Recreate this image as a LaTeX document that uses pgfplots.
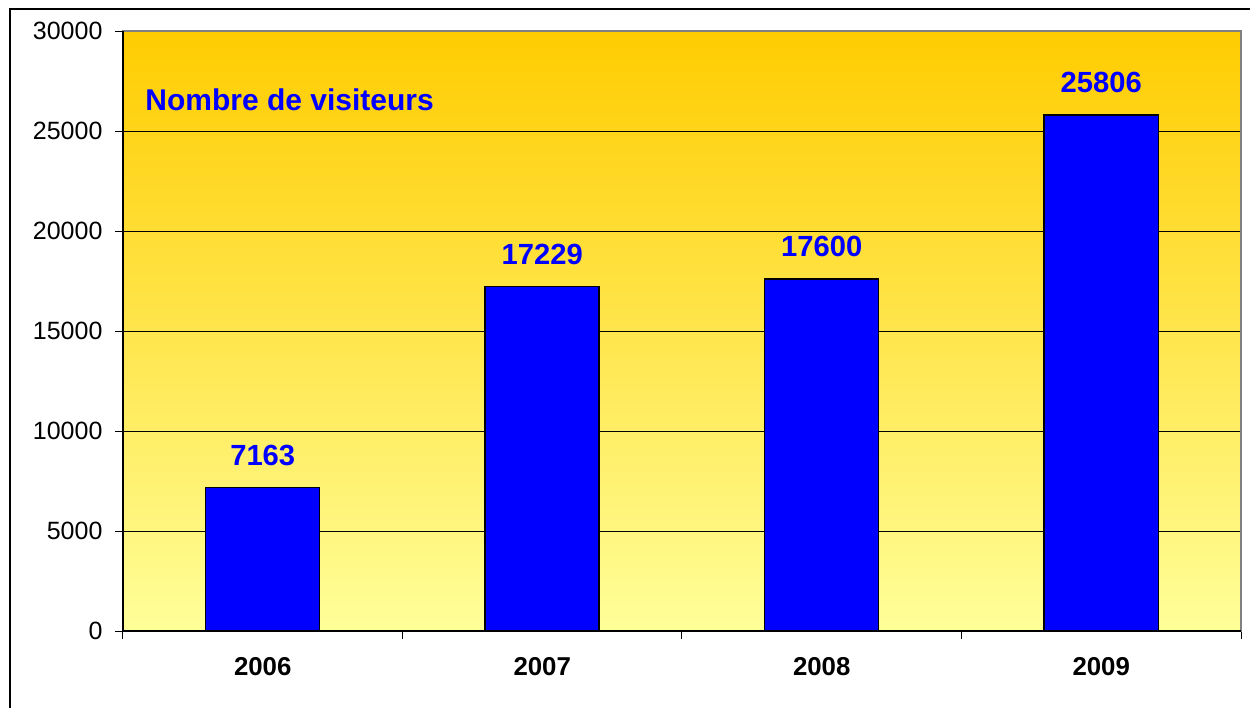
\documentclass[border=0pt]{standalone}
\usepackage{pgfplots}
\pgfplotsset{compat=1.18}
\usepackage{fontspec}
\setmainfont{Liberation Sans}
\definecolor{topc}{RGB}{255,204,0}
\definecolor{botc}{RGB}{255,255,153}
\definecolor{barblue}{RGB}{0,0,255}
\begin{document}
\begin{tikzpicture}
\begin{axis}[
  at={(0pt,0pt)}, anchor=south west,
  scale only axis, width=670.8pt, height=360pt,
  xmin=-0.5, xmax=3.5, ymin=0, ymax=30000,
  axis background/.style={top color=topc, bottom color=botc},
  axis line style={draw=gray, line width=0.9pt},
  xtick={0,1,2,3}, xticklabels={2006,2007,2008,2009},
  minor xtick={-0.5,0.5,1.5,2.5,3.5},
  xtick pos=bottom, ytick pos=left,
  ytick={0,5000,...,30000},
  scaled y ticks=false,
  /pgf/number format/assume math mode=true,
  yticklabel={\pgfmathprintnumber[fixed,1000 sep={}]{\tick}},
  tick align=outside,
  major tick length=4.8pt, minor tick length=4.8pt,
  x tick style={draw=none},
  minor x tick style={draw=black, line width=0.6pt},
  y tick style={draw=black, line width=0.6pt},
  ymajorgrids, major grid style={black, line width=0.5pt},
  yticklabel style={font=\fontsize{15}{17}\selectfont, xshift=-4pt},
  xticklabel style={font=\fontsize{15.5}{17}\selectfont\bfseries, yshift=-7.6pt},
  clip=false,
]
\addplot[ybar, bar width=68.4pt, fill=barblue, draw=black, line width=0.9pt,
  nodes near coords, every node near coord/.append style={font=\fontsize{17.5}{19}\selectfont\bfseries, text=barblue, yshift=9.4pt},
  nodes near coords={\pgfmathprintnumber[fixed,1000 sep={}]{\pgfplotspointmeta}}]
  coordinates {(0,7163) (1,17229) (2,17600) (3,25806)};
\draw[black, line width=0.9pt] (rel axis cs:0,1) -- (rel axis cs:0,0) -- (rel axis cs:1,0);
\node[anchor=west, font=\fontsize{18}{20}\selectfont\bfseries, text=barblue, inner sep=0pt] at (rel axis cs:0.0197,0.885) {Nombre de visiteurs};
\end{axis}
\pgfresetboundingbox
\useasboundingbox (-73.8pt,-45.6pt) rectangle (676.2pt,378.6pt);
\draw[black, line width=0.8pt] (-67.8pt,-60pt) rectangle (690pt,373.2pt);
\end{tikzpicture}
\end{document}
